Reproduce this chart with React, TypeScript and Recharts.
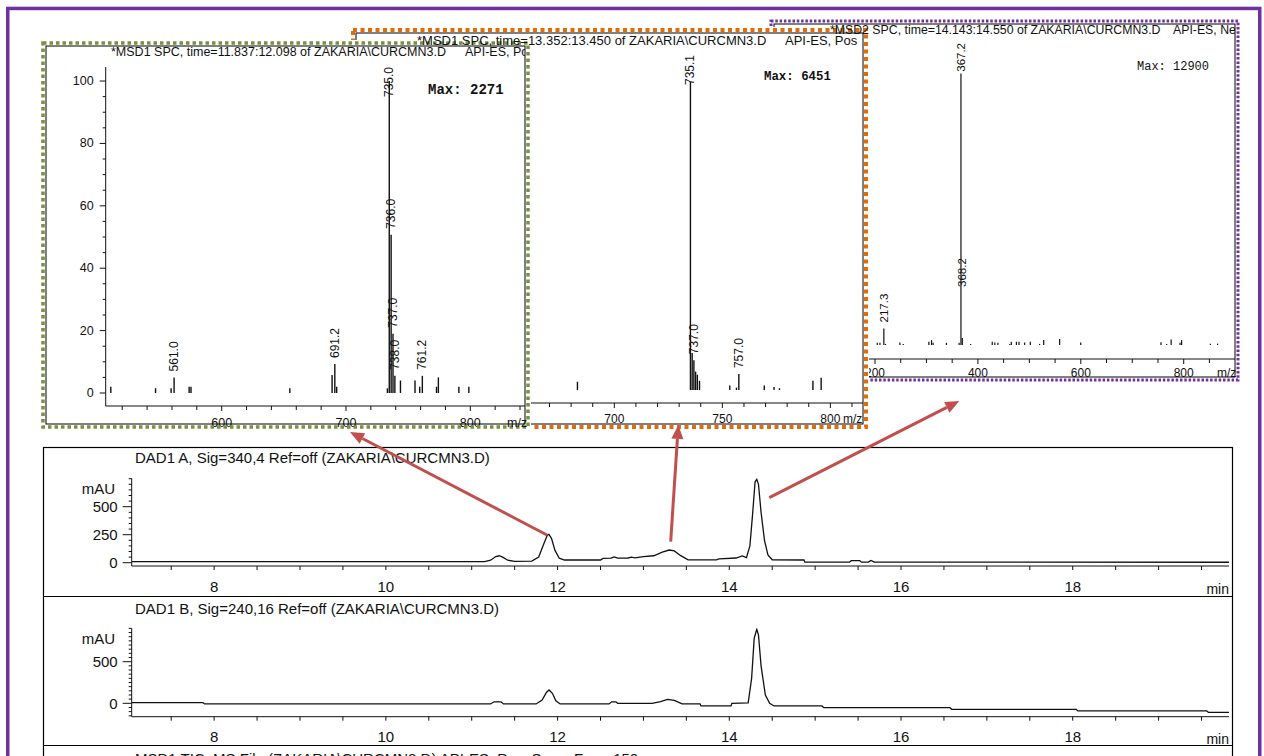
import React from "react";
import { BarChart, Bar, XAxis, YAxis, LabelList, LineChart, Line } from "recharts";

const SANS = '"Liberation Sans", Arial, Helvetica, sans-serif';
const MONO = '"Liberation Mono", "Courier New", monospace';
const INK = "#111";
const ARROW = "#c0504d";

// MSD1 SPC, time=11.837:12.098 (API-ES, Pos) — m/z vs relative abundance %
const spc1Mz = [511, 547, 559.5, 561.9, 574, 575.5, 655, 689, 691.2, 692.7, 733.5, 735, 736.5, 738, 739.5, 744, 755.7, 759.5, 761.6, 773, 774.5, 791, 799];
const spc1Abund = [2, 1.5, 1.5, 5, 2, 2, 1.5, 5.8, 9.3, 2, 1.5, 100, 50.7, 19, 5.5, 4, 4, 2, 5.5, 2, 5, 2, 2];
const spc1Peaks = ["", "", "", "561.0", "", "", "", "", "691.2", "", "", "735.0", "736.0", "737.0", "738.0", "", "", "", "761.2", "", "", "", ""];

// MSD1 SPC, time=13.352:13.450 (API-ES, Pos)
const spc2Mz = [683, 735.3, 736.1, 736.9, 737.7, 738.5, 739.5, 753.5, 756.6, 757.7, 769.5, 774, 776.5, 792, 795.8];
const spc2Abund = [2.7, 100, 12, 9.7, 6, 5, 3, 1.5, 0.8, 5.2, 1.5, 1, 0.6, 3, 4];
const spc2Peaks = ["", "735.1", "", "737.0", "", "", "", "", "", "757.0", "", "", "", "", ""];

// MSD2 SPC, time=14.143:14.550 (API-ES, Neg)
const spc3Mz = [204.5, 209.7, 217.3, 220.5, 248.5, 255, 304.8, 310, 313, 339, 363.6, 367.2, 369.8, 386, 428, 433, 439, 462, 465, 475, 480, 491, 502, 520, 528, 559, 600, 756, 767, 775.7, 793, 796, 852, 866];
const spc3Abund = [0.8, 0.8, 6.1, 0.4, 0.9, 0.4, 1.2, 1.8, 0.8, 0.8, 0.8, 100, 2.6, 0.4, 1.2, 0.9, 0.8, 0.4, 1.2, 1.2, 1.2, 0.9, 1.2, 0.4, 1.8, 2.2, 0.9, 1, 0.4, 2, 0.8, 1.8, 0.5, 0.5];
const spc3Peaks = ["", "", "217.3", "", "", "", "", "", "", "", "", "367.2", "368.2", "", "", "", "", "", "", "", "", "", "", "", "", "", "", "", "", "", "", "", "", ""];

const spc1Ticks = [520, 540, 560, 580, 600, 620, 640, 660, 680, 700, 720, 740, 760, 780, 800, 820, 840];
const spc1Labels = [600, 700, 800];
const spc2Ticks = [610, 620, 630, 640, 650, 660, 670, 680, 690, 700, 710, 720, 730, 740, 750, 760, 770, 780, 790, 800, 810];
const spc2Labels = [700, 750, 800];
const spc3Ticks = [150, 200, 250, 300, 350, 400, 450, 500, 550, 600, 650, 700, 750, 800, 850];
const spc3Labels = [200, 400, 600, 800];
const pctTicks = [0, 5, 10, 15, 20, 25, 30, 35, 40, 45, 50, 55, 60, 65, 70, 75, 80, 85, 90, 95, 100];
const pctLabels = [0, 20, 40, 60, 80, 100];

// DAD1 A, Sig=340,4 — minutes vs mAU
const dadATime = [7.04, 11.15, 11.22, 11.28, 11.32, 11.36, 11.42, 11.5, 11.7, 11.78, 11.84, 11.88, 11.9, 11.93, 11.97, 12.02, 12.08, 12.5, 12.53, 12.62, 12.66, 12.7, 12.82, 12.86, 12.9, 13.0, 13.12, 13.22, 13.3, 13.36, 13.43, 13.52, 13.85, 13.88, 14.08, 14.15, 14.2, 14.24, 14.27, 14.3, 14.32, 14.34, 14.37, 14.41, 14.45, 14.5, 14.87, 14.88, 15.4, 15.42, 15.52, 15.54, 15.62, 15.65, 15.69, 19.82];
const dadAValue = [9, 9, 22, 55, 62, 50, 22, 12, 14, 50, 170, 245, 253, 215, 110, 40, 24, 24, 38, 40, 52, 40, 42, 50, 44, 55, 62, 95, 113, 105, 65, 26, 26, 35, 42, 60, 45, 150, 420, 720, 745, 700, 450, 200, 70, 26, 24, 5, 5, 18, 18, 5, 5, 20, 5, 4];

// DAD1 B, Sig=240,16
const dadBTime = [7.04, 7.87, 7.89, 11.22, 11.26, 11.34, 11.37, 11.75, 11.82, 11.87, 11.9, 11.94, 11.98, 12.03, 12.6, 12.63, 12.68, 12.7, 13.1, 13.2, 13.28, 13.36, 13.45, 13.66, 13.67, 14.02, 14.03, 14.22, 14.26, 14.29, 14.32, 14.34, 14.37, 14.42, 14.47, 14.52, 15.08, 15.1, 16.57, 16.59, 18.04, 18.06, 19.56, 19.58, 19.82];
const dadBValue = [7, 7, -8, -8, 18, 18, -8, -8, 40, 130, 160, 120, 30, -8, -8, 18, 18, 0, 0, 20, 48, 35, -8, -8, -32, -32, 0, 5, 300, 780, 890, 820, 450, 100, 0, -32, -32, -53, -53, -72, -72, -92, -92, -108, -108];

const timeTicks = [7.5, 8, 8.5, 9, 9.5, 10, 10.5, 11, 11.5, 12, 12.5, 13, 13.5, 14, 14.5, 15, 15.5, 16, 16.5, 17, 17.5, 18, 18.5, 19, 19.5];
const timeLabels = [8, 10, 12, 14, 16, 18];
const dadATicks = [0, 50, 100, 150, 200, 250, 300, 350, 400, 450, 500, 550, 600, 650, 700, 750];
const dadALabels = [0, 250, 500];
const dadBTicks = [-150, -100, -50, 0, 50, 100, 150, 200, 250, 300, 350, 400, 450, 500, 550, 600, 650, 700, 750, 800, 850, 900];
const dadBLabels = [0, 500];

const toSpectrum = (mz: number[], ab: number[], lab: string[]) =>
  mz.map((m, i) => ({ mz: m, ab: ab[i], label: lab[i] }));
const toTrace = (t: number[], v: number[]) => t.map((x, i) => ({ t: x, v: v[i] }));

interface InsetProps {
  frame: [number, number, number, number];
  color: string;
  dash: string;
  dotW: number;
  plotLeft: number;
  plotTop: number;
  axisY: number;
  xDomain: [number, number];
  yDomain: [number, number];
  xTicks: number[];
  xLabels: number[];
  yLabels: number[];
  tickFont: number;
  tickLabelDy: number;
  labelFont: number;
  data: { mz: number; ab: number; label: string }[];
  title: string;
  titleY: number;
  titleX: number;
  titleFont: number;
  mode: string;
  modeX: number;
  maxText: string;
  maxX: number;
  maxY: number;
  maxFont: number;
  maxBold: boolean;
  mzX: number;
  nudge?: Record<string, number>;
  z: number;
  titleZ: number;
}

function SpectrumInset(p: InsetProps) {
  const [L, T, R, B] = p.frame;
  const pad = 3;
  const boxL = L - pad, boxT = T - pad, boxW = R - L + 2 * pad, boxH = B - T + 2 * pad;
  const inL = L + 3, inT = T + 3, inR = R - 3, inB = B - 3;
  const chartW = inR - inL;
  const chartH = boxT + boxH - inT;
  const mTop = p.plotTop - inT;
  const axisYc = p.axisY - inT;

  const xTick = (props: any) => {
    const { x, y, payload } = props;
    const v = payload.value;
    const major = p.xLabels.includes(v);
    return (
      <g>
        <line x1={x} x2={x} y1={y} y2={y + (major ? 5 : 4)} stroke={INK} />
        {major && (
          <text x={x} y={y + p.tickLabelDy} textAnchor="middle" dominantBaseline="central"
            fontSize={p.tickFont} fontFamily={SANS} fill={INK}>{v}</text>
        )}
      </g>
    );
  };

  const yTick = (props: any) => {
    const { x, y, payload } = props;
    const v = payload.value;
    const major = v % 20 === 0;
    const labelled = p.yLabels.includes(v);
    return (
      <g>
        <line x1={x - (major ? 6 : 3)} x2={x} y1={y} y2={y} stroke={INK} />
        {labelled && (
          <text x={x - 12} y={y} textAnchor="end" dominantBaseline="central"
            fontSize={p.tickFont} fontFamily={SANS} fill={INK}>{v}</text>
        )}
      </g>
    );
  };

  const peakLabel = (props: any) => {
    const vb = props.viewBox || props;
    const value = props.value;
    if (!value) return null;
    const bx = Number(props.x ?? vb.x);
    const by = Number(props.y ?? vb.y);
    const bw = Number(props.width ?? vb.width);
    const cx = bx + bw / 2;
    const len = String(value).length * p.labelFont * 0.5;
    let bottom = by - 6 - ((p.nudge && p.nudge[value]) || 0);
    if (bottom - len < mTop) bottom = mTop + len;
    return (
      <text x={cx} y={bottom} transform={`rotate(-90 ${cx} ${bottom})`} dominantBaseline="central"
        fontSize={p.labelFont} fontFamily={SANS} fill={INK}>{value}</text>
    );
  };

  return (
    <>
      <div style={{ position: "absolute", left: boxL, top: boxT, width: boxW, height: boxH, background: "#fff", overflow: "hidden", zIndex: p.z }}>
        <div style={{ position: "absolute", left: inL - boxL, top: inT - boxT }}>
          <BarChart width={chartW} height={chartH} data={p.data} margin={{ top: mTop, right: 0, bottom: 0, left: 0 }}>
            <XAxis type="number" dataKey="mz" domain={p.xDomain} allowDataOverflow ticks={p.xTicks} interval={0}
              height={chartH - axisYc} tickSize={0} tickMargin={0} tickLine={false} axisLine={{ stroke: INK }} tick={xTick} />
            <YAxis type="number" domain={p.yDomain} allowDataOverflow ticks={pctTicks} interval={0}
              width={p.plotLeft - inL} tickSize={0} tickMargin={0} tickLine={false} axisLine={{ stroke: INK }} tick={yTick} />
            <Bar dataKey="ab" fill={INK} barSize={1.4} isAnimationActive={false}>
              <LabelList dataKey="label" content={peakLabel} />
            </Bar>
          </BarChart>
        </div>
        <svg style={{ position: "absolute", left: 0, top: 0, pointerEvents: "none" }} width={boxW} height={boxH}
          viewBox={`${boxL} ${boxT} ${boxW} ${boxH}`}>
          <rect x={inL} y={inT} width={inR - inL} height={inB - inT} fill="none" stroke="#000" strokeWidth={1} />
          <rect x={L} y={T} width={R - L} height={B - T} fill="none" stroke={p.color} strokeWidth={p.dotW} strokeDasharray={p.dash} />
          <text x={p.maxX} y={p.maxY} dominantBaseline="central" fontSize={p.maxFont} fontFamily={MONO}
            fontWeight={p.maxBold ? 700 : 400} fill={INK}>{p.maxText}</text>
          <text x={p.mzX} y={p.axisY + p.tickLabelDy} dominantBaseline="central" fontSize={p.tickFont} fontFamily={SANS} fill={INK}>m/z</text>
        </svg>
      </div>
      {/* header line of the inset, drawn over neighbouring frames as in the print */}
      <div style={{ position: "absolute", left: inL, top: p.titleY - 9, width: inR - inL, height: 18, overflow: "hidden", zIndex: p.titleZ, pointerEvents: "none" }}>
        <svg width={inR - inL} height={18} viewBox={`${inL} ${p.titleY - 9} ${inR - inL} 18`}>
          <text x={p.titleX} y={p.titleY} dominantBaseline="central" fontSize={p.titleFont} fontFamily={SANS} fill={INK}>{p.title}</text>
          <text x={p.modeX} y={p.titleY} dominantBaseline="central" fontSize={p.titleFont} fontFamily={SANS} fill={INK}>{p.mode}</text>
        </svg>
      </div>
    </>
  );
}

interface DadProps {
  top: number;
  bottom: number;
  plotTop: number;
  axisY: number;
  data: { t: number; v: number }[];
  yDomain: [number, number];
  yTicks: number[];
  yLabels: number[];
}

const BOX_L = 43;
const BOX_R = 1232;
const PLOT_L = 131.7;
const PLOT_R = 1229;

function DadPanel(p: DadProps) {
  const w = BOX_R - BOX_L;
  const h = p.bottom - p.top;
  const timeTick = (props: any) => {
    const { x, y, payload } = props;
    const v = payload.value;
    const major = timeLabels.includes(v);
    return (
      <g>
        <line x1={x} x2={x} y1={y} y2={y + 4} stroke={INK} />
        {major && (
          <text x={x} y={y + 20} textAnchor="middle" dominantBaseline="central" fontSize={15} fontFamily={SANS} fill={INK}>{v}</text>
        )}
      </g>
    );
  };
  const valueTick = (props: any) => {
    const { x, y, payload } = props;
    const v = payload.value;
    const major = p.yLabels.includes(v);
    return (
      <g>
        <line x1={x - (major ? 9 : 3)} x2={x} y1={y} y2={y} stroke={INK} />
        {major && (
          <text x={x - 14} y={y} textAnchor="end" dominantBaseline="central" fontSize={15} fontFamily={SANS} fill={INK}>{v}</text>
        )}
      </g>
    );
  };
  return (
    <div style={{ position: "absolute", left: BOX_L, top: p.top, width: w, height: h }}>
      <LineChart width={w} height={h} data={p.data} margin={{ top: p.plotTop - p.top, right: BOX_R - PLOT_R, bottom: 0, left: 0 }}>
        <XAxis type="number" dataKey="t" domain={[7.04, 19.82]} allowDataOverflow ticks={timeTicks} interval={0}
          height={p.bottom - p.axisY} tickSize={0} tickMargin={0} tickLine={false} axisLine={{ stroke: INK }} tick={timeTick} />
        <YAxis type="number" domain={p.yDomain} allowDataOverflow ticks={p.yTicks} interval={0}
          width={PLOT_L - BOX_L} tickSize={0} tickMargin={0} tickLine={false} axisLine={{ stroke: INK }} tick={valueTick} />
        <Line type="linear" dataKey="v" stroke={INK} strokeWidth={1.3} dot={false} isAnimationActive={false} />
      </LineChart>
    </div>
  );
}

function Arrow({ from, to }: { from: [number, number]; to: [number, number] }) {
  const dx = to[0] - from[0];
  const dy = to[1] - from[1];
  const len = Math.hypot(dx, dy);
  const ux = dx / len, uy = dy / len;
  const head = 14, half = 6;
  const bx = to[0] - ux * head, by = to[1] - uy * head;
  const pts = `${to[0]},${to[1]} ${bx - uy * half},${by + ux * half} ${bx + uy * half},${by - ux * half}`;
  return (
    <g>
      <line x1={from[0]} y1={from[1]} x2={bx} y2={by} stroke={ARROW} strokeWidth={3} />
      <polygon points={pts} fill={ARROW} />
    </g>
  );
}

export default function App() {
  const spc1 = toSpectrum(spc1Mz, spc1Abund, spc1Peaks);
  const spc2 = toSpectrum(spc2Mz, spc2Abund, spc2Peaks);
  const spc3 = toSpectrum(spc3Mz, spc3Abund, spc3Peaks);
  const dadA = toTrace(dadATime, dadAValue);
  const dadB = toTrace(dadBTime, dadBValue);

  return (
    <div style={{ position: "absolute", left: 0, top: 0, width: 1264, height: 756, background: "#fff", overflow: "hidden", fontFamily: SANS }}>
      {/* chromatogram panels */}
      <DadPanel top={447} bottom={596} plotTop={478.3} axisY={566} data={dadA} yDomain={[-29.5, 753.6]} yTicks={dadATicks} yLabels={dadALabels} />
      <DadPanel top={596} bottom={745} plotTop={628.3} axisY={716.7} data={dadB} yDomain={[-161, 901]} yTicks={dadBTicks} yLabels={dadBLabels} />
      <svg style={{ position: "absolute", left: 0, top: 0, pointerEvents: "none" }} width={1264} height={756}>
        <rect x={BOX_L + 0.5} y={447.5} width={BOX_R - BOX_L} height={340} fill="none" stroke="#000" strokeWidth={1.2} />
        <line x1={BOX_L} x2={BOX_R} y1={596.5} y2={596.5} stroke="#000" strokeWidth={1.2} />
        <line x1={BOX_L} x2={BOX_R} y1={745.5} y2={745.5} stroke="#000" strokeWidth={1.2} />
        <text x={135} y={457} dominantBaseline="central" fontSize={15} fill={INK}>DAD1 A, Sig=340,4 Ref=off (ZAKARIA\CURCMN3.D)</text>
        <text x={115} y={488.5} textAnchor="end" dominantBaseline="central" fontSize={15} fill={INK}>mAU</text>
        <text x={1229} y={589} textAnchor="end" dominantBaseline="central" fontSize={14} fill={INK}>min</text>
        <text x={135} y={608.5} dominantBaseline="central" fontSize={15} fill={INK}>DAD1 B, Sig=240,16 Ref=off (ZAKARIA\CURCMN3.D)</text>
        <text x={115} y={638.5} textAnchor="end" dominantBaseline="central" fontSize={15} fill={INK}>mAU</text>
        <text x={1229} y={739} textAnchor="end" dominantBaseline="central" fontSize={14} fill={INK}>min</text>
        <text x={135} y={758} dominantBaseline="central" fontSize={15} fill={INK}>MSD1 TIC, MS File (ZAKARIA\CURCMN3.D)   API-ES, Pos, Scan, Frag: 150</text>
      </svg>

      {/* mass spectra insets: back (MSD2) to front (first MSD1) */}
      <SpectrumInset frame={[771, 21, 1238, 380]} color="#7030a0" dash="2.5 1.8" dotW={3}
        plotLeft={834} plotTop={43} axisY={359} xDomain={[120.3, 899.7]} yDomain={[-5.15, 111.2]}
        xTicks={spc3Ticks} xLabels={spc3Labels} yLabels={[]} tickFont={12} tickLabelDy={14} labelFont={11.5} data={spc3}
        title="*MSD2 SPC, time=14.143:14.550 of ZAKARIA\CURCMN3.D" titleX={830} titleY={30} titleFont={12.3}
        mode="API-ES, Ne" modeX={1173} maxText="Max: 12900" maxX={1137} maxY={67} maxFont={12} maxBold={false}
        mzX={1217} nudge={{ "368.2": 45 }} z={1} titleZ={3} />
      <SpectrumInset frame={[353, 30, 866, 427]} color="#e36c0a" dash="4 3.5" dotW={4}
        plotLeft={416} plotTop={55} axisY={403} xDomain={[608.2, 815.1]} yDomain={[-4.2, 108.8]}
        xTicks={spc2Ticks} xLabels={spc2Labels} yLabels={[]} tickFont={12} tickLabelDy={16} labelFont={12} data={spc2}
        title="*MSD1 SPC, time=13.352:13.450 of ZAKARIA\CURCMN3.D" titleX={417} titleY={40} titleFont={13}
        mode="API-ES, Pos" modeX={785} maxText="Max: 6451" maxX={764} maxY={77} maxFont={12.4} maxBold={true}
        mzX={843} z={2} titleZ={5} />
      <SpectrumInset frame={[43, 43, 528, 427]} color="#76923c" dash="3.5 3" dotW={3.5}
        plotLeft={105.7} plotTop={67} axisY={406} xDomain={[506.7, 844.0]} yDomain={[-4.17, 104.5]}
        xTicks={spc1Ticks} xLabels={spc1Labels} yLabels={pctLabels} tickFont={12.5} tickLabelDy={17} labelFont={12} data={spc1}
        title="*MSD1 SPC, time=11.837:12.098 of ZAKARIA\CURCMN3.D" titleX={111} titleY={52} titleFont={12.5}
        mode="API-ES, Po" modeX={465} maxText="Max: 2271" maxX={428} maxY={90} maxFont={14} maxBold={true}
        mzX={507} z={4} titleZ={4} />

      {/* annotation arrows and page frame */}
      <svg style={{ position: "absolute", left: 0, top: 0, zIndex: 6, pointerEvents: "none" }} width={1264} height={756}>
        <Arrow from={[547, 535]} to={[350, 432]} />
        <Arrow from={[670.7, 541.7]} to={[678.3, 425]} />
        <Arrow from={[769.3, 497.7]} to={[959.3, 401]} />
        <rect x={7.75} y={8.45} width={1252} height={800} fill="none" stroke="#7030a0" strokeWidth={3.5} />
      </svg>
    </div>
  );
}
